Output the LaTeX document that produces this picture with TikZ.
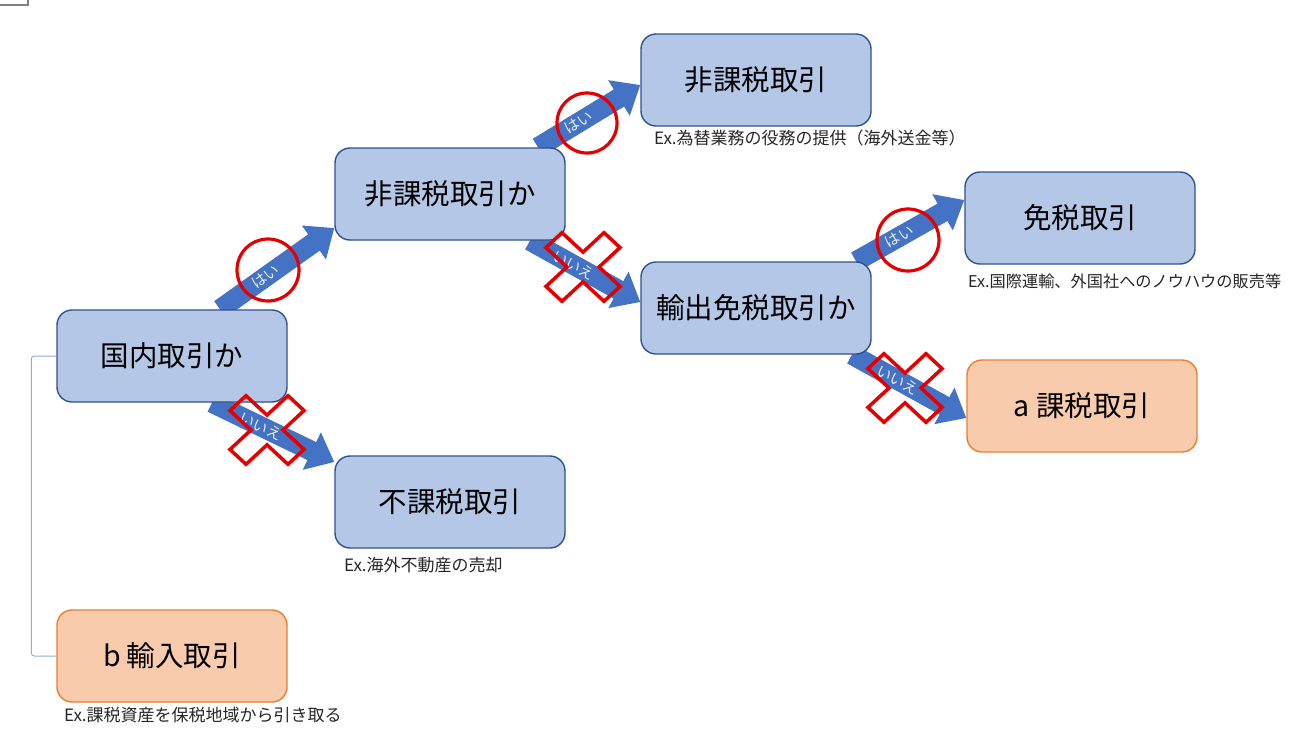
\documentclass[tikz,border=0pt]{standalone}
\usepackage{fontspec}
\setmainfont{Noto Sans CJK JP}
\usetikzlibrary{arrows.meta,backgrounds,positioning}
\definecolor{hakoao}{RGB}{180,199,231}
\definecolor{wakuao}{RGB}{47,82,143}
\definecolor{hakodai}{RGB}{248,203,173}
\definecolor{wakudai}{RGB}{237,125,49}
\definecolor{yaao}{RGB}{68,114,196}
\definecolor{aka}{RGB}{228,0,0}
\definecolor{senao}{RGB}{143,170,220}
\tikzset{
  box/.style={draw=wakuao, fill=hakoao, line width=1.4pt, rounded corners=15pt,
    minimum width=230pt, minimum height=92pt, font=\fontsize{28.5}{32}\selectfont},
  kekka/.style={box, draw=wakudai, fill=hakodai},
  extext/.style={anchor=west, text=black!85, inner sep=0pt, font=\fontsize{17}{19}\selectfont},
  yajirushi/.style={draw=yaao, line width=20pt, -{Triangle[length=25pt,width=40pt]}},
  yalabel/.style={pos=0.4, sloped, text=white!88!yaao, font=\fontsize{15}{15}\selectfont},
  maru/.style={draw=aka, line width=3.2pt},
  sen/.style={draw=senao, line width=1pt, rounded corners=3pt},
  batsu/.pic={
    \draw[aka, line width=3.5pt, xscale=1.08, rotate=45] (10.5,38) -- (10.5,10.5) -- (38,10.5)
      -- (38,-10.5) -- (10.5,-10.5) -- (10.5,-38) -- (-10.5,-38) -- (-10.5,-10.5)
      -- (-38,-10.5) -- (-38,10.5) -- (-10.5,10.5) -- (-10.5,38) -- cycle;
  }
}
\begin{document}
\begin{tikzpicture}[x=1pt, y=-1pt]
  \useasboundingbox (0,0) rectangle (1290,729);
  \draw[gray, line width=1.5pt] (0,5) -- (28,5) -- (28,0);

  \node[box] (kokunai) at (172,356) {国内取引か};
  \node[box] (hika) at (450,194) {非課税取引か};
  \node[box] (fuka) at (450,502) {不課税取引};
  \node[box] (hikazei) at (756,80) {非課税取引};
  \node[box] (yushutsu) at (756,308) {輸出免税取引か};
  \node[box] (menzei) at (1080,218) {免税取引};
  \node[kekka] (kazei) at (1082,406) {a 課税取引};
  \node[kekka] (yunyu) at (172,656) {b 輸入取引};

  \node[extext] (ex1) at (654,138) {Ex.為替業務の役務の提供（海外送金等）};
  \node[extext, font=\fontsize{16.2}{18}\selectfont] (ex2) at (968,281) {Ex.国際運輸、外国社へのノウハウの販売等};
  \node[extext] (ex3) at (344,565) {Ex.海外不動産の売却};
  \node[extext] (ex4) at (64,715) {Ex.課税資産を保税地域から引き取る};

  \begin{scope}[on background layer]
    \draw[yajirushi] ([xshift=48pt]kokunai.north) -- ([yshift=-34pt]hika.west)
      node[yalabel] {はい};
    \draw[yajirushi] ([xshift=40pt]kokunai.south) -- ([yshift=40pt]fuka.west)
      node[yalabel] {いいえ};
    \draw[yajirushi] ([xshift=88pt]hika.north) -- ([yshift=-5pt]hikazei.west)
      node[yalabel] {はい};
    \draw[yajirushi] ([xshift=80pt]hika.south) -- ([yshift=6pt]yushutsu.west)
      node[yalabel] {いいえ};
    \draw[yajirushi] ([xshift=100pt]yushutsu.north) -- ([yshift=18pt]menzei.west)
      node[yalabel] {はい};
    \draw[yajirushi] ([xshift=96pt]yushutsu.south) -- ([yshift=-12pt]kazei.west)
      node[yalabel] {いいえ};
  \end{scope}

  % maru / batsu
  \draw[maru] (268,270) circle[radius=31];
  \draw[maru] (587,123) circle[radius=30];
  \draw[maru] (908,240) circle[radius=31];
  \pic at (267,430) {batsu};
  \pic at (583,267) {batsu};
  \pic at (905,388) {batsu};

  \draw[sen] (kokunai.west) -- ++(-25,0) |- (yunyu.west);
\end{tikzpicture}
\end{document}
